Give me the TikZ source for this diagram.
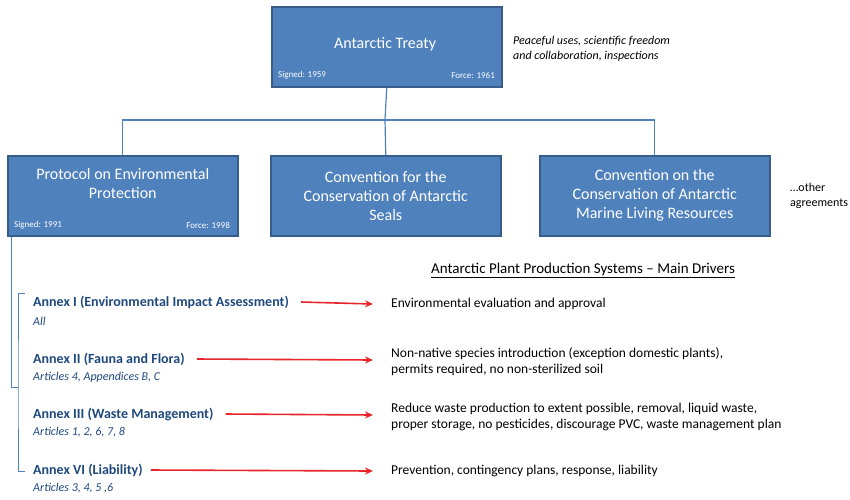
\documentclass[tikz,border=0pt]{standalone}
\usepackage{fontspec}
\setmainfont{Carlito}
\usetikzlibrary{arrows.meta}
\definecolor{boxfill}{HTML}{4F81BD}
\definecolor{boxline}{HTML}{385D8A}
\definecolor{annex}{HTML}{1F497D}
\definecolor{arr}{HTML}{E8252A}
\begin{document}
\begin{tikzpicture}[x=1pt,y=-1pt,
  box/.style={draw=boxline,line width=1.5pt,fill=boxfill,text=white,minimum width=230pt,minimum height=80pt,align=center,font=\fontsize{16}{19}\selectfont,anchor=north west,inner sep=0pt},
  small/.style={text=white,font=\fontsize{9}{10}\selectfont,inner sep=0pt},
  conn/.style={draw=boxfill,line width=1.2pt},
  atitle/.style={anchor=west,text=annex,font=\bfseries\fontsize{14}{16}\selectfont,inner sep=0pt},
  asub/.style={anchor=west,text=annex,font=\itshape\fontsize{12}{14}\selectfont,inner sep=0pt},
  drv/.style={anchor=west,align=left,font=\fontsize{13.5}{16}\selectfont,inner sep=0pt},
  rarr/.style={draw=arr,line width=1.6pt,-{Stealth[length=8pt,width=7pt]}}]
\useasboundingbox (0,0) rectangle (850,499);
\node[box] (t) at (271,6) {};
\node at (385,44) [text=white,font=\fontsize{16}{19}\selectfont] {Antarctic Treaty};
\node[small,anchor=west] (ts) at (278,75) {Signed: 1959};
\node[small,anchor=east] (tf) at (495,75) {Force: 1961};
\node[anchor=west,align=left,font=\itshape\fontsize{12}{14.5}\selectfont,inner sep=0pt] (tn) at (513,49) {Peaceful uses, scientific freedom\\and collaboration,\ inspections};
\node[box] (p) at (7,155) {Protocol on Environmental\\Protection\\[6pt]};
\node[small,anchor=west] (ps) at (14,225) {Signed: 1991};
\node[small,anchor=east] (pf) at (230,225) {Force: 1998};
\node[box] (s) at (270,155) {Convention for the\\Conservation of Antarctic\\Seals};
\node[box] (c) at (539,155) {Convention on the\\Conservation of Antarctic\\Marine Living Resources};
\node[anchor=west,align=left,font=\fontsize{12}{14.5}\selectfont,inner sep=0pt] (oth) at (790,196) {…other\\agreements};
\coordinate (hb) at (385,120);
\draw[conn] (t.south) -- (hb);
\draw[conn] (p.north) |- (hb) -| (c.north);
\draw[conn] (hb) -- (s.north);
\coordinate (b0) at (11,236.75);
\coordinate (b1) at (18,387);
\draw[conn,line width=1pt] (b0) |- (b1);
\coordinate (bt) at (25,293);
\coordinate (bb) at (25,471);
\draw[conn,line width=1pt] (bt) -| (18,387) |- (bb);
\node[anchor=center,font=\fontsize{15}{18}\selectfont,inner sep=0pt] (hd) at (583,270) {\underline{Antarctic Plant Production Systems – Main Drivers}};
\node[atitle] (a1) at (33,302) {Annex I (Environmental Impact Assessment)};
\node[asub] (a1s) at (33,321) {All};
\node[atitle] (a2) at (33,359) {Annex II (Fauna and Flora)};
\node[asub] (a2s) at (33,377) {Articles 4, Appendices B, C};
\node[atitle] (a3) at (33,414) {Annex III (Waste Management)};
\node[asub] (a3s) at (33,432) {Articles 1, 2, 6, 7, 8};
\node[atitle] (a4) at (33,470) {Annex VI (Liability)};
\node[asub] (a4s) at (33,488) {Articles 3, 4, 5 ,6};
\node[drv] (d1) at (391,304) {Environmental evaluation and approval};
\node[drv] (d2) at (391,362) {Non-native species introduction (exception domestic plants),\\permits required, no non-sterilized soil};
\node[drv] (d3) at (391,417) {Reduce waste production to extent possible, removal, liquid waste,\\proper storage, no pesticides, discourage PVC, waste management plan};
\node[drv] (d4) at (391,471) {Prevention, contingency plans, response, liability};
\draw[rarr] ([xshift=12pt]a1.east) -- (373,304);
\draw[rarr] ([xshift=12pt]a2.east) -- (373,360);
\draw[rarr] ([xshift=12pt]a3.east) -- (373,415);
\draw[rarr] ([xshift=8pt]a4.east) -- (373,471);
\end{tikzpicture}
\end{document}
